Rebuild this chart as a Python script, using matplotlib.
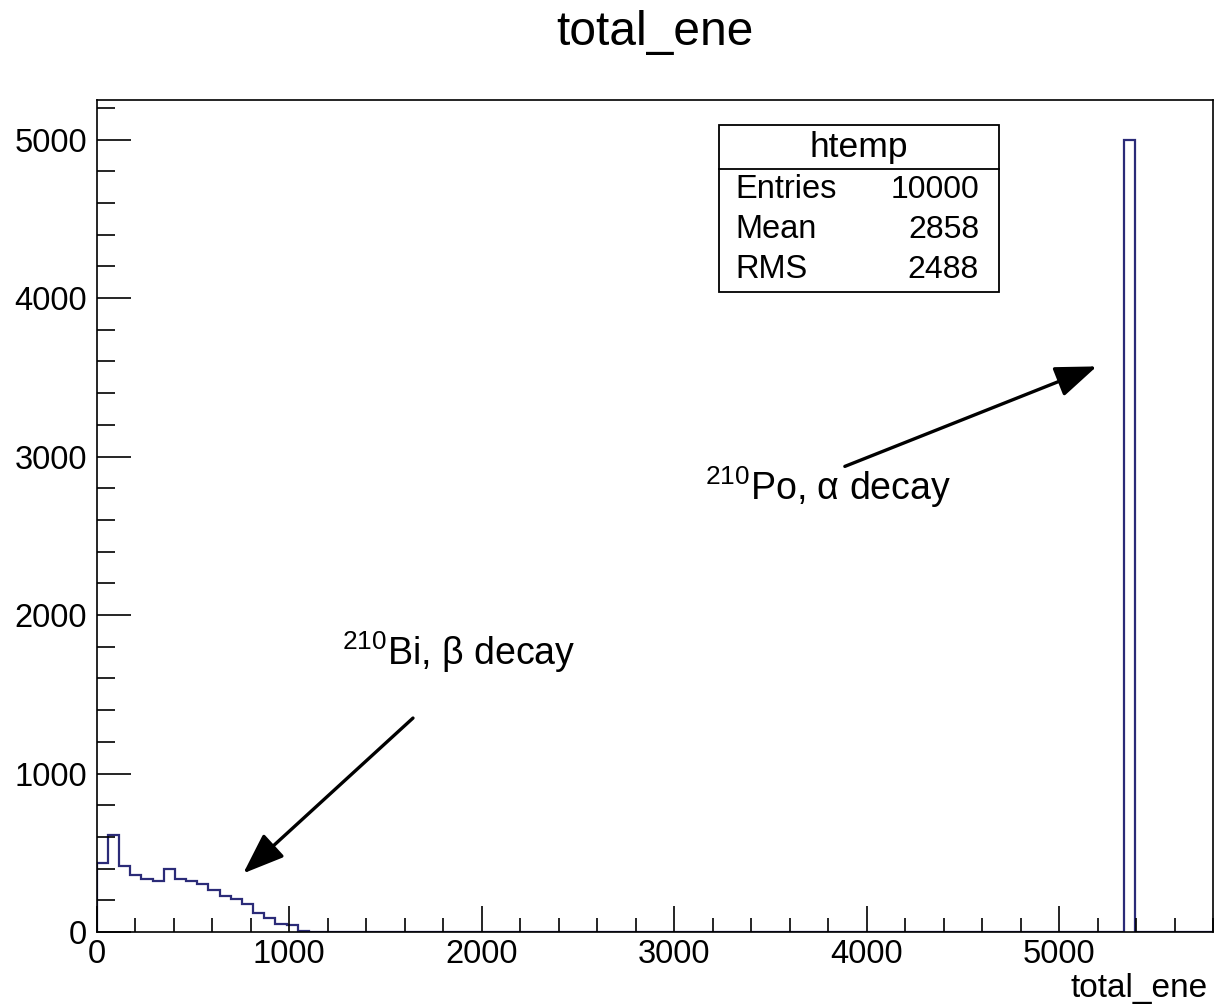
import numpy as np
import matplotlib
matplotlib.use("Agg")
import matplotlib.pyplot as plt
from matplotlib.patches import Rectangle
from matplotlib.lines import Line2D

plt.rcParams['font.family'] = ['Liberation Sans', 'DejaVu Sans']
plt.rcParams['mathtext.fontset'] = 'custom'
plt.rcParams['mathtext.rm'] = 'Liberation Sans'
plt.rcParams['mathtext.it'] = 'Liberation Sans:italic'
plt.rcParams['mathtext.default'] = 'regular'

# ---- data ----
n_bins = 100
x_min, x_max = 0.0, 5800.0
bi_counts = [435, 614, 414, 362, 337, 322, 397, 337, 322, 302,
             267, 228, 207, 174, 120, 90, 48, 43, 5]
po_bin = 92
po_count = 5000
stats_labels = ["Entries", "Mean", "RMS"]
stats_values = ["10000", "2858", "2488"]
hist_name = "htemp"
title = "total_ene"
xlabel = "total_ene"

counts = np.zeros(n_bins)
counts[:len(bi_counts)] = bi_counts
counts[po_bin] = po_count
edges = np.linspace(x_min, x_max, n_bins + 1)

W, H = 1216, 1008
fig = plt.figure(figsize=(W / 100, H / 100), dpi=100)
fx = lambda x: x / W
fy = lambda y: 1 - y / H

ax = fig.add_axes([fx(96.8), fy(932), fx(1213) - fx(96.8), fy(100) - fy(932)])
ax.stairs(counts, edges, color='#2b2b78', lw=1.6)
ax.set_xlim(x_min, x_max)
ax.set_ylim(0, 5250)

ax.set_xticks(np.arange(0, 5001, 1000))
ax.set_xticks(np.arange(0, 5801, 200), minor=True)
ax.set_yticks(np.arange(0, 5001, 1000))
ax.set_yticks(np.arange(0, 5251, 200), minor=True)
ax.tick_params(axis='x', which='major', direction='in', length=19, width=1.2, labelsize=23.5, pad=5)
ax.tick_params(axis='x', which='minor', direction='in', length=10, width=1.2)
ax.tick_params(axis='y', which='major', direction='in', length=24.5, width=1.2, labelsize=23.5, pad=7)
ax.tick_params(axis='y', which='minor', direction='in', length=13, width=1.2)
for s in ax.spines.values():
    s.set_linewidth(1.2)

# title and axis label
fig.text(fx(655), fy(45), title, ha='center', va='baseline', fontsize=34.5)
fig.text(fx(1208), fy(997), xlabel, ha='right', va='baseline', fontsize=24)

# stats box
bx0, bx1, by0, by1 = 719, 999, 125, 291.7
fig.add_artist(Rectangle((fx(bx0), fy(by1)), fx(bx1) - fx(bx0), fy(by0) - fy(by1),
                         transform=fig.transFigure, fill=True, facecolor='white',
                         edgecolor='black', lw=1.3))
fig.add_artist(Line2D([fx(bx0), fx(bx1)], [fy(168.5), fy(168.5)],
                      transform=fig.transFigure, color='black', lw=1.3))
fig.text(fx(859), fy(148), hist_name, ha='center', va='center', fontsize=25.5)
row_y = [190, 230, 270]
for lab, val, yy in zip(stats_labels, stats_values, row_y):
    fig.text(fx(735), fy(yy), lab, ha='left', va='center', fontsize=23.5)
    fig.text(fx(979), fy(yy), val, ha='right', va='center', fontsize=23)

# annotations
arrow_style = dict(arrowstyle='-|>,head_length=0.85,head_width=0.32',
                   mutation_scale=30, lw=2.4, color='black', shrinkA=0, shrinkB=0)
ax.annotate('', xy=(761, 370), xytext=(1643, 1350), arrowprops=arrow_style)
ax.annotate('', xy=(5196, 3569), xytext=(3887, 2938), arrowprops=arrow_style)
ax.text(1274, 1683, r'$^{210}$Bi, β decay', fontsize=27, ha='left', va='baseline')
ax.text(3159, 2724, r'$^{210}$Po, α decay', fontsize=27, ha='left', va='baseline')

fig.savefig('out.png', dpi=100)
